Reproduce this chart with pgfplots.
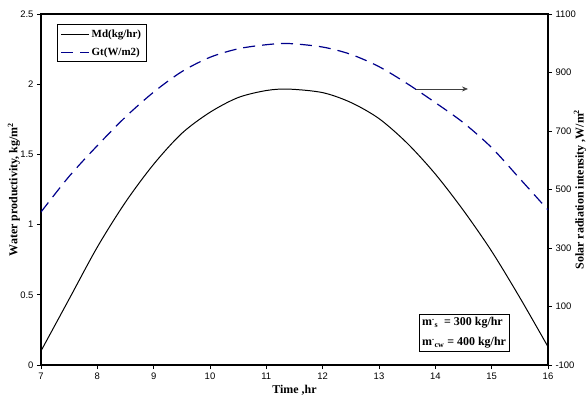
\documentclass[border=0pt]{standalone}
\usepackage{pgfplots}
\pgfplotsset{compat=1.18}
\usepackage{fontspec}
\setmainfont{Liberation Serif}
\newfontfamily\arial{Liberation Sans}
\usetikzlibrary{arrows.meta}
\definecolor{navy}{RGB}{0,0,140}

\pgfplotstableread{
t md
7 0.10
7.5 0.47
8 0.84
8.5 1.16
9 1.43
9.5 1.65
10 1.80
10.5 1.905
11 1.955
11.4 1.965
12 1.94
12.5 1.87
13 1.755
13.5 1.58
14 1.36
14.5 1.10
15 0.81
15.5 0.48
16 0.13
}\mdtable

\pgfplotstableread{
t gt
7 423
7.5 545
8 650
8.5 748
9 833
9.5 903
10 952
10.5 981
11 995
11.4 999
12 987
12.5 962
13 920
13.5 862
14 797
14.5 728
15 643
15.5 537
16 430
}\gttable

\begin{document}
\begin{tikzpicture}
\path[use as bounding box] (-41bp,-42bp) rectangle (547bp,365bp);
\pgfplotsset{
  every axis/.append style={
    scale only axis, width=507bp, height=351bp,
    xmin=7, xmax=16,
    tick align=outside, major tick length=4bp,
    tick style={black, line width=0.8pt},
    axis line style={line width=1.3pt},
    tick label style={font=\arial\fontsize{9.5}{11}\selectfont},
    label style={font=\bfseries\fontsize{12}{14}\selectfont},
    /pgf/number format/assume math mode=true,
    /pgf/number format/1000 sep={},
  }
}
\begin{axis}[
  ymin=0, ymax=2.5,
  ytick={0,0.5,1,1.5,2,2.5},
  xtick={7,8,...,16},
  xtick pos=bottom, ytick pos=left,
  xlabel={Time ,hr},
  ylabel={Water productivity, kg/m$^{\mathbf{2}}$},
  xlabel style={yshift=1bp},
  every axis y label/.style={at={(rel axis cs:0,0.5)}, xshift=-27bp, rotate=90, anchor=center,
    font=\bfseries\fontsize{12}{14}\selectfont},
  legend style={at={(0.032,0.971)}, anchor=north west, draw=black, line width=0.6pt,
    font=\bfseries\fontsize{11}{13}\selectfont, row sep=5bp, inner sep=3bp},
  legend cell align=left,
  legend image code/.code={\draw[#1] (0bp,0bp) -- (28bp,0bp);},
]
\addplot[black, line width=1pt, smooth] table[x=t,y=md] {\mdtable};
\addlegendentry{Md(kg/hr)}
\addlegendimage{navy, line width=1.2pt, dash pattern=on 12bp off 7bp}
\addlegendentry{Gt(W/m2)}
\draw[-{Stealth[length=6bp,width=5bp]}, line width=0.8pt, black!75] (axis cs:13.64,1.966) -- (axis cs:14.58,1.966);
\node[draw, fill=white, line width=0.6pt, align=left, inner sep=3bp,
  font=\bfseries\fontsize{12}{20}\selectfont] at (axis cs:14.51,0.228)
  {m\textsuperscript{\raisebox{0.3ex}{.}}\textsubscript{s}\ \ = 300 kg/hr\\ m\textsuperscript{\raisebox{0.3ex}{.}}\textsubscript{cw} = 400 kg/hr};
\end{axis}
\begin{axis}[
  ymin=-100, ymax=1100,
  ytick={-100,100,...,1100},
  axis x line=none,
  axis y line*=right,
  ylabel={Solar radiation intensity ,W/m$^{\mathbf{2}}$},
  every axis y label/.style={at={(rel axis cs:1,0.5)}, xshift=32bp, rotate=90, anchor=center,
    font=\bfseries\fontsize{12}{14}\selectfont},
]
\addplot[navy, line width=1.2pt, dash pattern=on 12bp off 7bp, smooth] table[x=t,y=gt] {\gttable};
\end{axis}
\end{tikzpicture}
\end{document}
